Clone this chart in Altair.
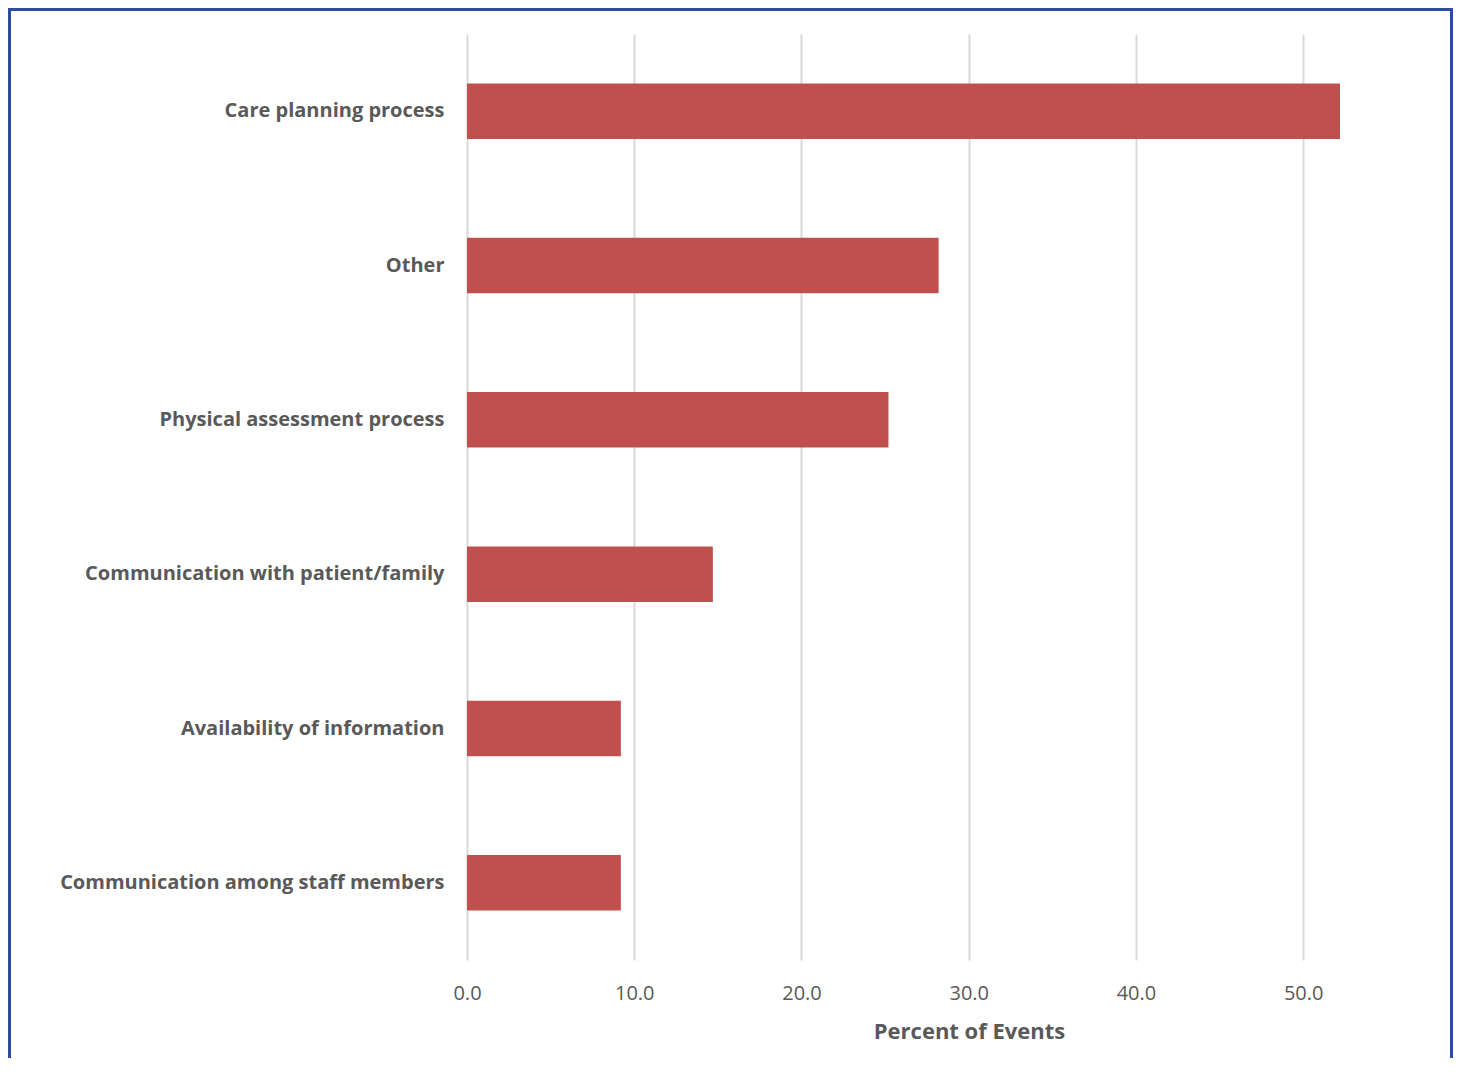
import altair as alt
import pandas as pd

categories = [
    "Care planning process",
    "Other",
    "Physical assessment process",
    "Communication with patient/family",
    "Availability of information",
    "Communication among staff members",
]
values = [52.2, 28.2, 25.2, 14.7, 9.2, 9.2]
tick_values = [0, 10, 20, 30, 40, 50]

df = pd.DataFrame({"category": categories, "value": values})

W, H = 873, 926
TEXT = "#595959"
FONT = "Open Sans"

bars = alt.Chart(df).mark_bar(color="#c0504d").encode(
    x=alt.X(
        "value:Q",
        scale=alt.Scale(domain=[0, 52.2], nice=False, zero=True),
        axis=alt.Axis(
            values=tick_values,
            format=".1f",
            title="Percent of Events",
            titleX=502,
            titleAnchor="middle",
            titleAlign="center",
            titleFontSize=22,
            titleFontWeight="bold",
            titleColor=TEXT,
            titleFont=FONT,
            titlePadding=18,
            labelFont=FONT,
            labelFontSize=20,
            labelColor=TEXT,
            labelPadding=23,
            labelFlush=False,
            ticks=False,
            domain=False,
            grid=True,
            gridColor="#d9d9d9",
            gridWidth=2,
        ),
    ),
    y=alt.Y(
        "category:N",
        sort=categories,
        scale=alt.Scale(paddingInner=0.64, paddingOuter=0.32),
        axis=alt.Axis(
            title=None,
            labelFont=FONT,
            labelFontSize=20,
            labelFontWeight="bold",
            labelColor=TEXT,
            labelPadding=23,
            ticks=False,
            domain=False,
            labelLimit=500,
        ),
    ),
)

frame = alt.Chart(df).mark_rect(
    fill=None, stroke="#2f4b9b", strokeWidth=3, clip=False
).encode(
    x=alt.value(-457.5), x2=alt.value(984.5), y=alt.value(-24.5), y2=alt.value(1200)
)

chart = (
    alt.layer(frame, bars)
    .properties(
        width=W,
        height=H,
        autosize=alt.AutoSizeParams(type="none"),
        padding={"left": 459, "top": 26, "right": 113, "bottom": 98},
    )
    .configure(font=FONT)
    .configure_view(strokeWidth=0, stroke=None)
)

chart.save("out.html", embed_options={"renderer": "svg", "actions": False})
